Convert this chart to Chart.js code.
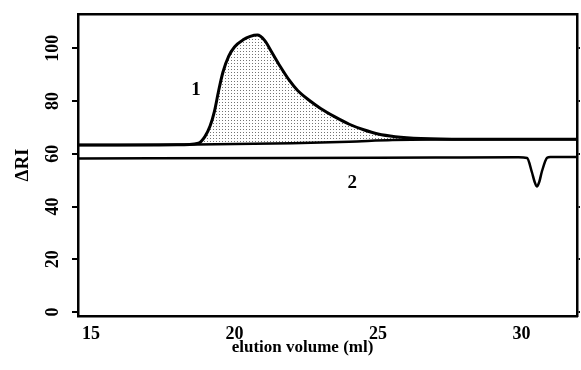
<!DOCTYPE html>
<html lang="en">
<head>
  <meta charset="UTF-8" />
  <title>Elution profile</title>
  <script src="https://cdn.jsdelivr.net/npm/chart.js"></script>
  <style>
    body { margin: 0; background: #fff; }
  </style>
</head>
<body>
<canvas id="riChart" width="581" height="370"></canvas>

<script>
// elution volume (ml) and detector response for trace 1 (the shaded peak)
const volume1 = [14.55, 18.0, 18.74, 18.97, 19.15, 19.3, 19.45, 19.6, 19.8, 20.0, 20.3, 20.55, 20.8, 21.05, 21.3, 21.6, 21.9, 22.2, 22.6, 23.0, 23.5, 24.0, 24.5, 25.0, 25.6, 26.5, 28.0, 31.93];
const ri1     = [63.3, 63.4, 64.0, 66.5, 70.5, 76, 84, 91, 97, 100.5, 103.2, 104.5, 105, 103, 98.5, 93, 88, 84, 80.3, 77.2, 74, 71.2, 69.1, 67.5, 66.5, 65.8, 65.5, 65.5];

// baseline under the shaded area
const baseVolume = [14.55, 18.7, 22.0, 24.0, 25.5, 27.0, 31.93];
const baseRi     = [63.3, 63.5, 64.0, 64.6, 65.2, 65.4, 65.5];

// trace 2 with the small negative peak near 30.5 ml
const volume2 = [14.55, 22.0, 27.0, 29.9, 30.19, 30.36, 30.45, 30.53, 30.62, 30.7, 30.89, 31.0, 31.93];
const ri2     = [58.2, 58.4, 58.6, 58.7, 58.4, 53, 49.5, 47.6, 49.5, 53, 58.5, 58.8, 58.8];

const xTicks = [15, 20, 25, 30];
const yTicks = [0, 20, 40, 60, 80, 100];

// trace numbers and where they sit (ml, ΔRI)
const traceLabels = ['1', '2'];
const traceLabelAt = [[18.66, 84.3], [24.1, 49]];

const serif = '"Liberation Serif", "DejaVu Serif", serif';

function points(xs, ys) {
  return xs.map((x, i) => ({ x: x, y: ys[i] }));
}

// stippled fill for the peak area
function stipple() {
  const c = document.createElement('canvas');
  c.width = 3; c.height = 3;
  const g = c.getContext('2d');
  g.fillStyle = 'rgba(0,0,0,0.55)';
  g.fillRect(0, 0, 1, 1);
  return document.getElementById('riChart').getContext('2d').createPattern(c, 'repeat');
}

const textLayer = {
  id: 'textLayer',
  afterDraw(chart) {
    const ctx = chart.ctx;
    const xs = chart.scales.x, ys = chart.scales.y, area = chart.chartArea;
    ctx.save();
    ctx.fillStyle = '#000';
    ctx.textAlign = 'center';
    ctx.textBaseline = 'middle';

    // rotated y tick labels
    ctx.font = 'bold 18px ' + serif;
    yTicks.forEach(v => {
      ctx.save();
      ctx.translate(53, ys.getPixelForValue(v));
      ctx.rotate(-Math.PI / 2);
      ctx.fillText(String(v), 0, 0);
      ctx.restore();
    });

    // x axis title
    ctx.font = 'bold 17px ' + serif;
    ctx.fillText('elution volume (ml)', area.left + 0.45 * (area.right - area.left), 348);

    // trace numbers
    ctx.font = 'bold 19px ' + serif;
    traceLabels.forEach((t, i) => {
      ctx.fillText(t, xs.getPixelForValue(traceLabelAt[i][0]), ys.getPixelForValue(traceLabelAt[i][1]));
    });
    ctx.restore();
  }
};

const lineStyle = { pointRadius: 0, borderColor: '#000', cubicInterpolationMode: 'monotone' };

new Chart(document.getElementById('riChart'), {
  type: 'scatter',
  data: {
    datasets: [
      Object.assign({ data: points(volume1, ri1), showLine: true, borderWidth: 3, fill: '+1', backgroundColor: stipple() }, lineStyle),
      Object.assign({ data: points(baseVolume, baseRi), showLine: true, borderWidth: 2.5, fill: false }, lineStyle),
      Object.assign({ data: points(volume2, ri2), showLine: true, borderWidth: 2.5, fill: false }, lineStyle)
    ]
  },
  options: {
    responsive: false,
    animation: false,
    layout: { padding: { top: 14, right: 0, bottom: 0, left: 0 } },
    plugins: { legend: { display: false }, tooltip: { enabled: false } },
    scales: {
      x: {
        type: 'linear', position: 'bottom', min: 14.55, max: 31.93,
        afterBuildTicks: s => { s.ticks = xTicks.map(v => ({ value: v })); },
        afterFit: s => { s.height = 54; },
        grid: { display: false },
        border: { display: true, color: '#000', width: 2.5 },
        ticks: { color: '#000', padding: 0, maxRotation: 0, font: { family: serif, size: 18, weight: 'bold' } }
      },
      y: {
        type: 'linear', position: 'left', min: -1.5, max: 113,
        afterBuildTicks: s => { s.ticks = yTicks.map(v => ({ value: v })); },
        afterFit: s => { s.width = 78; },
        grid: { display: true, drawOnChartArea: false, drawTicks: true, tickLength: 6, color: '#000', lineWidth: 2 },
        border: { display: true, color: '#000', width: 2.5 },
        ticks: { display: false },
        title: { display: true, text: 'ΔRI', color: '#000', padding: { top: 12, bottom: 0 }, font: { family: serif, size: 19, weight: 'bold' } }
      },
      x2: {
        type: 'linear', position: 'top', min: 14.55, max: 31.93,
        afterFit: s => { s.height = 0; },
        grid: { display: false },
        border: { display: true, color: '#000', width: 2.5 },
        ticks: { display: false }
      },
      y2: {
        type: 'linear', position: 'right', min: -1.5, max: 113,
        afterBuildTicks: s => { s.ticks = yTicks.map(v => ({ value: v })); },
        afterFit: s => { s.width = 4; },
        grid: { display: true, drawOnChartArea: false, drawTicks: true, tickLength: 3, color: '#000', lineWidth: 2 },
        border: { display: true, color: '#000', width: 2.5 },
        ticks: { display: false }
      }
    }
  },
  plugins: [textLayer]
});
</script>
</body>
</html>
